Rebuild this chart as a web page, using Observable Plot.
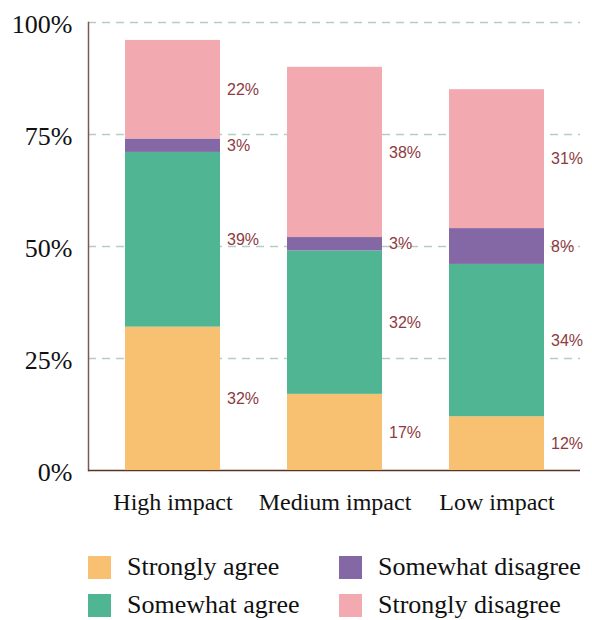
<!DOCTYPE html>
<html>
<head>
<meta charset="utf-8">
<script src="https://cdn.jsdelivr.net/npm/d3@7"></script>
<script src="https://cdn.jsdelivr.net/npm/@observablehq/plot@0.6"></script>
<style>
  html, body { margin: 0; padding: 0; background: #fff; }
  #chart { width: 592px; }
  .legend { display: grid; grid-template-columns: 251px auto; grid-auto-rows: 38px;
    margin-top: 18px; padding-left: 88px; font-family: "Liberation Serif", "Times New Roman", serif;
    font-size: 26px; color: #111; }
  .item { display: flex; align-items: center; white-space: nowrap; }
  .sw { width: 23px; height: 23px; margin-right: 16px; flex: none; }
</style>
</head>
<body>
<div id="chart"></div>
<script>
const groups = ["High impact", "Medium impact", "Low impact"];
const categories = ["Strongly agree", "Somewhat agree", "Somewhat disagree", "Strongly disagree"];
const colors = ["#f8c171", "#50b593", "#8468a6", "#f2a9b0"];
const stronglyAgree = [32, 17, 12];
const somewhatAgree = [39, 32, 34];
const somewhatDisagree = [3, 3, 8];
const stronglyDisagree = [22, 38, 31];
const yTicks = [0, 25, 50, 75, 100];
const gridTicks = [25, 50, 75, 100];

const series = [stronglyAgree, somewhatAgree, somewhatDisagree, stronglyDisagree];
const data = [];
groups.forEach((g, i) => categories.forEach((c, j) => data.push({group: g, category: c, value: series[j][i]})));

const chart = Plot.plot({
  width: 592,
  height: 530,
  marginLeft: 88,
  marginRight: 12,
  marginTop: 22,
  marginBottom: 60,
  style: {background: "transparent"},
  x: {domain: groups, paddingInner: 0.415, paddingOuter: 0.22, label: null},
  y: {domain: [0, 100], label: null},
  color: {domain: categories, range: colors},
  marks: [
    Plot.ruleY(gridTicks, {stroke: "#b3cdc3", strokeWidth: 1.5, strokeDasharray: "8,6"}),
    Plot.frame({anchor: "left", stroke: "#7a5a50", strokeWidth: 1.5}),
    Plot.ruleY([0], {stroke: "#5a3427", strokeWidth: 1.5}),
    Plot.barY(data, {x: "group", y: "value", fill: "category", order: categories}),
    Plot.text(data, Plot.stackY({x: "group", y: "value", z: "category", order: categories,
      text: d => d.value + "%", textAnchor: "start", dx: 54, fill: "#8e3a40",
      fontSize: 16, fontFamily: "Liberation Sans, Arial, sans-serif"})),
    Plot.axisY({ticks: yTicks, tickFormat: d => d + "%", tickSize: 0, tickPadding: 16, dy: 2,
      fontSize: 26, fontFamily: "Liberation Serif, Times New Roman, serif", color: "#111", label: null}),
    Plot.axisX({tickSize: 0, tickPadding: 22, fontSize: 24,
      fontFamily: "Liberation Serif, Times New Roman, serif", color: "#111", label: null})
  ]
});
document.getElementById("chart").appendChild(chart);

const legend = document.createElement("div");
legend.className = "legend";
const orderL = [0, 2, 1, 3];
orderL.forEach(j => {
  const it = document.createElement("div");
  it.className = "item";
  const sw = document.createElement("span");
  sw.className = "sw";
  sw.style.background = colors[j];
  it.appendChild(sw);
  it.appendChild(document.createTextNode(categories[j]));
  legend.appendChild(it);
});
document.getElementById("chart").appendChild(legend);
</script>
</body>
</html>
